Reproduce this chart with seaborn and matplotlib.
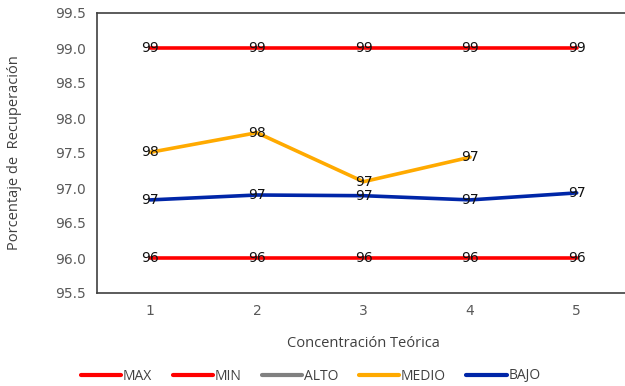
import seaborn as sns
import pandas as pd
import numpy as np
import matplotlib
import matplotlib.pyplot as plt
from matplotlib.lines import Line2D
matplotlib.use('Agg')

conc = [1, 2, 3, 4, 5]
max_v = [99, 99, 99, 99, 99]
min_v = [96, 96, 96, 96, 96]
alto = [np.nan, np.nan, np.nan, np.nan, np.nan]
medio = [97.51, 97.79, 97.09, 97.44, np.nan]
bajo = [96.83, 96.90, 96.89, 96.83, 96.93]

series = {"MAX": max_v, "MIN": min_v, "ALTO": alto, "MEDIO": medio, "BAJO": bajo}
pal = {"MAX": "#FF0000", "MIN": "#FF0000", "ALTO": "#808080", "MEDIO": "#FFAA00", "BAJO": "#0026A8"}

rows = []
for name, vals in series.items():
    for c, v in zip(conc, vals):
        rows.append({"conc": c, "valor": v, "serie": name})
df = pd.DataFrame(rows)

sns.set_style("white")
plt.rcParams['font.family'] = ['DejaVu Sans']

fig = plt.figure(figsize=(6.25, 3.86), dpi=100)
ax = fig.add_axes([97/625, 1-293/386, (630-97)/625, 280/386])

for name in series:
    sub = df[df["serie"] == name].dropna()
    if sub.empty:
        continue
    sns.lineplot(data=sub, x="conc", y="valor", color=pal[name], lw=2.6, ax=ax, legend=False)
    for _, r in sub.iterrows():
        ax.text(r["conc"], r["valor"], "%d" % round(r["valor"]), ha="center", va="center",
                fontsize=10, color="#111111")

ax.set_xlim(0.5, 5.5)
ax.set_ylim(95.5, 99.5)
ax.set_yticks(np.arange(95.5, 99.51, 0.5))
ax.set_yticklabels(["%.1f" % t for t in np.arange(95.5, 99.51, 0.5)])
ax.set_xticks(conc)
ax.tick_params(axis='both', labelsize=10, labelcolor="#595959", length=0, pad=8)
for s in ax.spines.values():
    s.set_color("#404040")
    s.set_linewidth(1.2)

ax.set_xlabel("Concentración Teórica", fontsize=10.5, color="#404040", labelpad=13,
              family="Open Sans")
ax.set_ylabel("Porcentaje de  Recuperación", fontsize=10.5, color="#404040", labelpad=12,
              family="Open Sans")
ax.yaxis.set_label_coords(-0.14, 0.5)

handles = [Line2D([0], [0], color=pal[n], lw=3) for n in series]
leg = fig.legend(handles, list(series.keys()), loc="center", bbox_to_anchor=(0.497, 1-376/386),
                 ncol=5, frameon=False, handlelength=2.9, handletextpad=0.1,
                 columnspacing=1.5, prop={"family": "Open Sans", "size": 10})
for t in leg.get_texts():
    t.set_color("#404040")

fig.savefig("out.png", dpi=100)
